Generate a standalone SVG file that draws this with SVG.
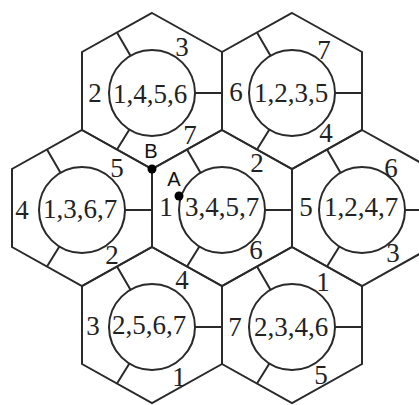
<svg xmlns="http://www.w3.org/2000/svg" xmlns:xlink="http://www.w3.org/1999/xlink" width="419" height="405" viewBox="0 0 419 405">
<style>
.ln{fill:none;stroke:#2a2a2a;stroke-width:2}
.t{font-family:"Liberation Serif","Times New Roman",serif;font-size:27px;fill:#222;text-anchor:middle}
.s{font-family:"Liberation Sans",Arial,sans-serif;font-size:20px;fill:#111;text-anchor:middle}
</style>
<defs>
<g id="cell">
<polygon class="ln" points="0,-78 70,-39 70,39 0,78 -70,39 -70,-39"/>
<circle class="ln" cx="0" cy="2" r="43"/>
<path class="ln" d="M43,2H70M-21.5,-35.2L-35,-58.5M-22.6,38.5L-35,58.5"/>
</g>
</defs>
<rect width="419" height="405" fill="#fff"/>
<g id="n1"><use xlink:href="#cell" href="#cell" transform="translate(152,91)"/>
<text class="t" x="95" y="102">2</text><text class="t" x="150" y="103">1,4,5,6</text><text class="t" x="182" y="56">3</text><text class="t" x="190" y="144">7</text></g>
<g id="n2"><use xlink:href="#cell" href="#cell" transform="translate(292,91)"/>
<text class="t" x="236" y="101">6</text><text class="t" x="291" y="102">1,2,3,5</text><text class="t" x="324" y="59">7</text><text class="t" x="326" y="142">4</text></g>
<g id="n3"><use xlink:href="#cell" href="#cell" transform="translate(82,208)"/>
<text class="t" x="22" y="219">4</text><text class="t" x="80" y="218">1,3,6,7</text><text class="t" x="117" y="177">5</text><text class="t" x="112" y="264">2</text></g>
<g id="n4"><use xlink:href="#cell" href="#cell" transform="translate(222,208)"/>
<text class="t" x="166" y="216">1</text><text class="t" x="222" y="216">3,4,5,7</text><text class="t" x="257" y="172">2</text><text class="t" x="256" y="259">6</text></g>
<g id="n5"><use xlink:href="#cell" href="#cell" transform="translate(362,208)"/>
<text class="t" x="306" y="216">5</text><text class="t" x="361" y="216">1,2,4,7</text><text class="t" x="391" y="177">6</text><text class="t" x="393" y="262">3</text></g>
<g id="n6"><use xlink:href="#cell" href="#cell" transform="translate(152,325)"/>
<text class="t" x="93" y="335">3</text><text class="t" x="149" y="334">2,5,6,7</text><text class="t" x="182" y="289">4</text><text class="t" x="179" y="386">1</text></g>
<g id="n7"><use xlink:href="#cell" href="#cell" transform="translate(292,325)"/>
<text class="t" x="235" y="336">7</text><text class="t" x="291" y="336">2,3,4,6</text><text class="t" x="323" y="291">1</text><text class="t" x="321" y="384">5</text></g>
<g id="pB"><circle cx="152" cy="169" r="4.5" fill="#000"/><text class="s" x="151" y="158">B</text></g>
<g id="pA"><circle cx="179" cy="196" r="4.5" fill="#000"/><text class="s" x="174" y="186">A</text></g>
<g id="connectors"></g>
</svg>
